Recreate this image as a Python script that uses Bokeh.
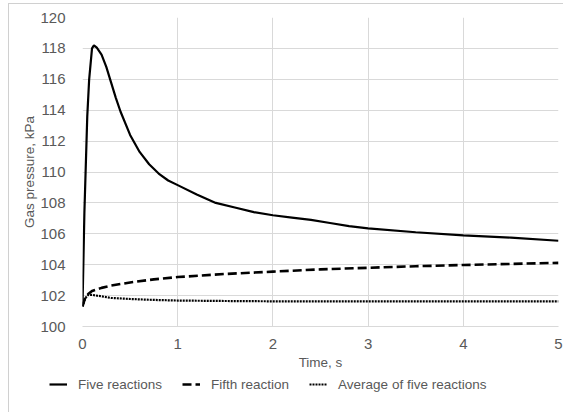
from bokeh.plotting import figure
from bokeh.layouts import column
from bokeh.models import ColumnDataSource, Legend, LegendItem, FixedTicker, Range1d
from bokeh.embed import file_html
from bokeh.resources import INLINE

# ---- data ----
t_five = [0, 0.02, 0.05, 0.07, 0.1, 0.12, 0.15, 0.2, 0.25, 0.3, 0.35, 0.4, 0.5, 0.6,
          0.7, 0.8, 0.9, 1.0, 1.2, 1.4, 1.6, 1.8, 2.0, 2.2, 2.4, 2.6, 2.8, 3.0, 3.5,
          4.0, 4.5, 5.0]
p_five = [101.3, 107.4, 113.6, 116.0, 118.0, 118.2, 118.05, 117.6, 116.8, 115.8,
          114.8, 113.9, 112.4, 111.3, 110.5, 109.9, 109.45, 109.15, 108.55, 108.0,
          107.7, 107.4, 107.2, 107.05, 106.9, 106.7, 106.5, 106.35, 106.1, 105.9,
          105.75, 105.55]

t_fifth = [0, 0.03, 0.06, 0.1, 0.15, 0.2, 0.3, 0.5, 0.75, 1.0, 1.5, 2.0, 2.5, 3.0,
           3.5, 4.0, 4.5, 5.0]
p_fifth = [101.3, 101.9, 102.1, 102.3, 102.4, 102.5, 102.65, 102.85, 103.05, 103.2,
           103.4, 103.55, 103.7, 103.8, 103.9, 103.98, 104.05, 104.12]

t_avg = [0, 0.03, 0.06, 0.1, 0.2, 0.3, 0.5, 0.75, 1.0, 1.5, 2.0, 3.0, 4.0, 5.0]
p_avg = [101.3, 101.85, 102.05, 102.05, 101.95, 101.85, 101.78, 101.72, 101.68,
         101.65, 101.63, 101.63, 101.63, 101.63]

x_ticks = [0, 1, 2, 3, 4, 5]
y_ticks = [100, 102, 104, 106, 108, 110, 112, 114, 116, 118, 120]
series_names = ["Five reactions", "Fifth reaction", "Average of five reactions"]

FONT = "Liberation Sans"
GRAY_TXT = "#595959"
GRID = "#d9d9d9"
BORDER = "1px solid #d0d0d0"

src_five = ColumnDataSource(dict(t=t_five, p=p_five))
src_fifth = ColumnDataSource(dict(t=t_fifth, p=p_fifth))
src_avg = ColumnDataSource(dict(t=t_avg, p=p_avg))

styles = [dict(line_color="black", line_width=2.2),
          dict(line_color="black", line_width=2.6, line_dash="9 4"),
          dict(line_color="black", line_width=2.2, line_dash="2 1")]
sources = [src_five, src_fifth, src_avg]

# ---- main chart ----
p = figure(width=555, height=369, output_backend="svg", toolbar_location=None,
           x_range=Range1d(0, 5), y_range=Range1d(100, 120),
           min_border_left=73, min_border_right=7, min_border_top=13,
           min_border_bottom=48)
p.frame_width = 475
p.frame_height = 308
p.frame_align = False
p.margin = (3, 0, 0, 8)
p.styles = {"border-left": BORDER, "border-top": BORDER}
p.outline_line_color = None
p.background_fill_color = "white"
p.border_fill_color = "white"

for src, st in zip(sources, styles):
    p.line("t", "p", source=src, **st)

p.xaxis.ticker = FixedTicker(ticks=x_ticks)
p.yaxis.ticker = FixedTicker(ticks=y_ticks)
for ax in (p.xaxis, p.yaxis):
    ax.major_tick_line_color = None
    ax.minor_tick_line_color = None
    ax.major_label_text_font = FONT
    ax.major_label_text_font_size = "15px"
    ax.major_label_text_color = GRAY_TXT
    ax.axis_label_text_font = FONT
    ax.axis_label_text_font_size = "13.5px"
    ax.axis_label_text_font_style = "normal"
    ax.axis_label_text_color = GRAY_TXT
p.xaxis.axis_line_color = GRID
p.yaxis.axis_line_color = None
p.xaxis.axis_label = "Time, s"
p.yaxis.axis_label = "Gas pressure, kPa"
p.xaxis.major_label_standoff = 6
p.yaxis.major_label_standoff = 11
p.xaxis.axis_label_standoff = 3
p.yaxis.axis_label_standoff = 0

p.xgrid.grid_line_color = GRID
p.ygrid.grid_line_color = GRID

# ---- legend strip below the chart ----
lf = figure(width=555, height=40, output_backend="svg", toolbar_location=None,
            x_range=Range1d(-10, -9), y_range=Range1d(0, 1),
            x_axis_type=None, y_axis_type=None,
            min_border_left=0, min_border_right=0, min_border_top=0,
            min_border_bottom=0)
lf.frame_align = False
lf.margin = (0, 0, 0, 8)
lf.styles = {"border-left": BORDER}
lf.outline_line_color = None
lf.xgrid.visible = False
lf.ygrid.visible = False
lf.background_fill_color = "white"
lf.border_fill_color = "white"

leg_renderers = [lf.line("t", "p", source=src, **st) for src, st in zip(sources, styles)]

legend = Legend(items=[LegendItem(label=n, renderers=[r])
                       for n, r in zip(series_names, leg_renderers)],
                orientation="horizontal", location=(40, 19),
                glyph_width=18, glyph_height=20, label_standoff=11, spacing=20,
                padding=0, margin=0, border_line_color=None,
                background_fill_alpha=0,
                label_text_font=FONT, label_text_font_size="13.5px",
                label_text_color=GRAY_TXT)
lf.add_layout(legend, "center")

layout = column(p, lf, spacing=0)
open("out.html", "w").write(file_html(layout, INLINE))
